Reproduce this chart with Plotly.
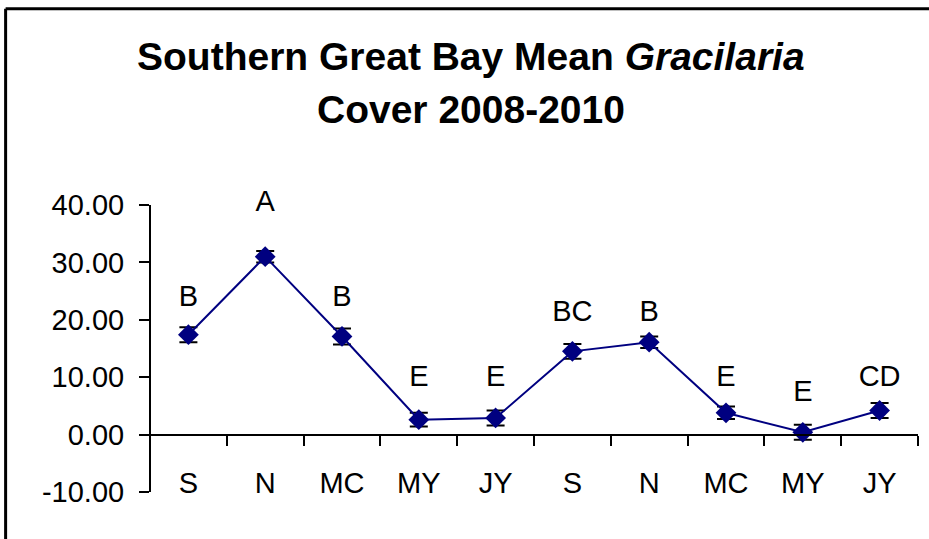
import plotly.graph_objects as go

# Southern Great Bay mean Gracilaria cover, 2008-2010
seasons = ["S", "N", "MC", "MY", "JY", "S", "N", "MC", "MY", "JY"]
mean_cover = [17.4, 31.0, 17.1, 2.6, 2.9, 14.5, 16.1, 3.8, 0.4, 4.2]
std_err = [1.3, 1.0, 1.4, 1.2, 1.3, 1.3, 1.0, 1.1, 1.3, 1.3]
groups = ["B", "A", "B", "E", "E", "BC", "B", "E", "E", "CD"]
group_y = [23.6, 40.2, 23.6, 9.7, 9.7, 21.0, 21.0, 9.7, 7.1, 9.7]
y_ticks = [-10, 0, 10, 20, 30, 40]
y_ticktext = ["-10.00", "0.00", "10.00", "20.00", "30.00", "40.00"]

xs = list(range(len(seasons)))
font = "Liberation Sans, Arial, sans-serif"
y_min, y_top = -10, 42.96  # a bit of room above 40 for the "A" label

fig = go.Figure()
fig.add_trace(go.Scatter(
    x=xs, y=mean_cover,
    mode="lines+markers",
    line=dict(color="#000080", width=2),
    marker=dict(symbol="diamond", size=16, color="#000080"),
    error_y=dict(type="data", array=std_err, color="black", thickness=2, width=9),
    showlegend=False, hoverinfo="skip",
))
# significance letters
fig.add_trace(go.Scatter(
    x=xs, y=group_y, mode="text", text=groups, cliponaxis=False,
    textfont=dict(size=29, color="black", family=font),
    showlegend=False, hoverinfo="skip",
))
# invisible trace so the label axis is drawn
fig.add_trace(go.Scatter(x=xs, y=mean_cover, xaxis="x2", mode="none",
                         showlegend=False, hoverinfo="skip"))

# y axis line, stops at the 40 tick
fig.add_shape(type="line", xref="paper", yref="y", x0=0, x1=0,
              y0=y_ticks[0], y1=y_ticks[-1], line=dict(color="black", width=2))

# title, one annotation per line
fig.add_annotation(text="<b>Southern Great Bay Mean <i>Gracilaria</i></b>",
                   xref="paper", yref="paper", x=0.418, y=1.434,
                   xanchor="center", yanchor="middle", showarrow=False,
                   font=dict(size=39, family=font, color="black"))
fig.add_annotation(text="<b>Cover 2008-2010</b>",
                   xref="paper", yref="paper", x=0.418, y=1.257,
                   xanchor="center", yanchor="middle", showarrow=False,
                   font=dict(size=39, family=font, color="black"))

# chart border: only the left and top edges show in the crop
fig.add_shape(type="line", xref="paper", yref="paper",
              x0=-0.188, x1=-0.188, y0=-0.3, y1=1.59,
              line=dict(color="black", width=3), layer="below")
fig.add_shape(type="line", xref="paper", yref="paper",
              x0=-0.188, x1=1.02, y0=1.59, y1=1.59,
              line=dict(color="black", width=3), layer="below")

fig.update_layout(
    width=929, height=539,
    margin=dict(l=150, r=11, t=188, b=47, autoexpand=False),
    paper_bgcolor="white", plot_bgcolor="white",
    font=dict(family=font, color="black", size=29),
    xaxis=dict(
        range=[-0.5, 9.5], anchor="free", position=10 / (y_top - y_min), automargin=False,
        tickmode="array", tickvals=[i - 0.5 for i in range(len(seasons) + 1)],
        ticktext=[""] * (len(seasons) + 1),
        ticks="outside", ticklen=10, tickwidth=2, tickcolor="black",
        showline=True, linecolor="black", linewidth=2,
        showgrid=False, zeroline=False,
    ),
    xaxis2=dict(
        range=[-0.5, 9.5], overlaying="x", anchor="free", position=0.095,
        side="bottom", tickmode="array", tickvals=xs, ticktext=seasons,
        ticks="", showline=False, showgrid=False, zeroline=False, automargin=False,
        tickfont=dict(size=29, family=font, color="black"),
    ),
    yaxis=dict(
        range=[y_min, y_top], tickmode="array", tickvals=y_ticks, ticktext=y_ticktext,
        ticks="outside", ticklen=10, tickwidth=2, automargin=False,
        tickcolor="black", showline=False,
        showgrid=False, zeroline=False, ticklabelstandoff=9,
        tickfont=dict(size=29, family=font, color="black"),
    ),
)

# drop the default 8px body margin so the figure sits at the page corner
fig.write_html("out.html", config={"displayModeBar": False},
               post_script="document.body.style.margin = '0';")
